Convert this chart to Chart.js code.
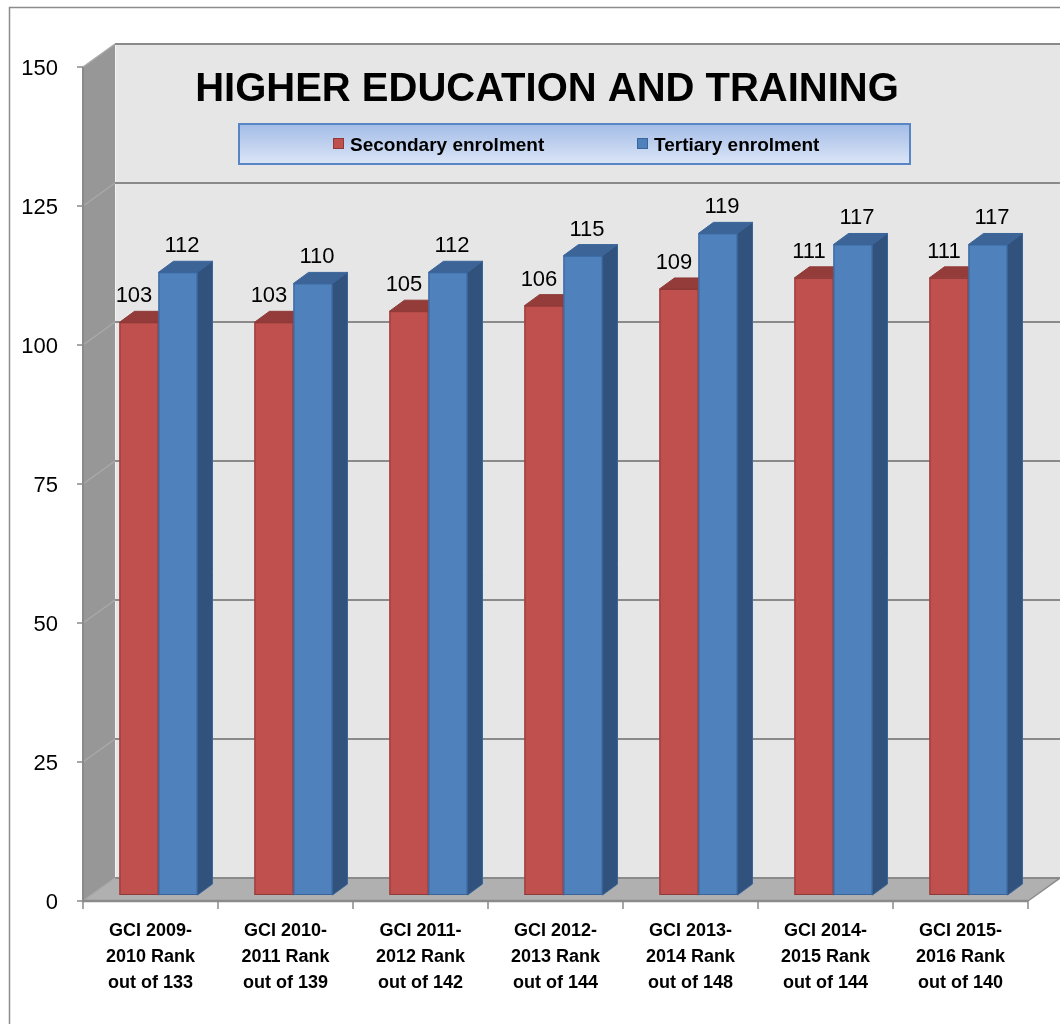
<!DOCTYPE html>
<html><head><meta charset="utf-8">
<script src="https://cdn.jsdelivr.net/npm/chart.js@4.4.0/dist/chart.umd.min.js"></script>
<style>html,body{margin:0;padding:0;background:#fff}canvas{display:block}</style>
</head><body>
<canvas id="c" width="1060" height="1024"></canvas>
<script>
const categories = [
  ["GCI 2009-","2010 Rank","out of 133"],
  ["GCI 2010-","2011 Rank","out of 139"],
  ["GCI 2011-","2012 Rank","out of 142"],
  ["GCI 2012-","2013 Rank","out of 144"],
  ["GCI 2013-","2014 Rank","out of 148"],
  ["GCI 2014-","2015 Rank","out of 144"],
  ["GCI 2015-","2016 Rank","out of 140"]
];
const secondaryEnrolment = [103,103,105,106,109,111,111];
const tertiaryEnrolment  = [112,110,112,115,119,117,117];
const seriesNames = ["Secondary enrolment","Tertiary enrolment"];
const yTickValues = [0,25,50,75,100,125,150];
const chartTitle = "HIGHER EDUCATION AND TRAINING";

const FRONT = {dx:-8, dy:6}, BACK = {dx:24, dy:-17}, DEPTH = {dx:15, dy:-11};
const COLORS = [
  {front:'#c0504d', top:'#943c3a', side:'#7d3230', edge:'#8e3a38'},
  {front:'#4f81bd', top:'#3c6497', side:'#30527c', edge:'#3a659a'}
];
const FONT = '"Liberation Sans", Arial, sans-serif';

function poly(ctx, pts, fill, stroke){
  ctx.beginPath();
  ctx.moveTo(pts[0][0], pts[0][1]);
  for (let i=1;i<pts.length;i++) ctx.lineTo(pts[i][0], pts[i][1]);
  ctx.closePath();
  if (fill){ ctx.fillStyle = fill; ctx.fill(); }
  if (stroke){ ctx.strokeStyle = stroke; ctx.lineWidth = 1; ctx.stroke(); }
}
function line(ctx, x1,y1,x2,y2, color, w){
  ctx.beginPath(); ctx.moveTo(x1,y1); ctx.lineTo(x2,y2);
  ctx.strokeStyle=color; ctx.lineWidth=w; ctx.stroke();
}

const excel3d = {
  id:'excel3d',
  beforeDraw(chart){
    const {ctx, chartArea:a, scales:{x, y}} = chart;
    ctx.save();
    ctx.fillStyle='#fff'; ctx.fillRect(0,0,chart.width,chart.height);
    ctx.beginPath(); ctx.moveTo(9.5, chart.height+5); ctx.lineTo(9.5,7.5); ctx.lineTo(chart.width+5,7.5);
    ctx.strokeStyle='#8c8c8c'; ctx.lineWidth=1.5; ctx.stroke();

    const y0 = y.getPixelForValue(0), yT = y.getPixelForValue(150);
    const fl = a.left+FRONT.dx, fr = a.right+FRONT.dx, bl = a.left+BACK.dx, br = a.right+BACK.dx;
    ctx.fillStyle='#e6e6e6'; ctx.fillRect(bl, yT+BACK.dy, br-bl+40, y0-yT);
    poly(ctx, [[fl,yT+FRONT.dy],[bl,yT+BACK.dy],[bl,y0+BACK.dy],[fl,y0+FRONT.dy]], '#979797');
    poly(ctx, [[fl,y0+FRONT.dy],[bl,y0+BACK.dy],[br,y0+BACK.dy],[fr,y0+FRONT.dy]], '#b0b0b0');
    line(ctx, bl+0.5, yT+BACK.dy, bl+0.5, y0+BACK.dy, '#f4f4f4', 1);
    yTickValues.forEach(v=>{
      const py = y.getPixelForValue(v);
      line(ctx, bl, py+BACK.dy, br+40, py+BACK.dy, '#8a8a8a', 2);
      line(ctx, fl, py+FRONT.dy, bl, py+BACK.dy, '#a9a9a9', 1.5);
      line(ctx, fl-6, py+FRONT.dy, fl, py+FRONT.dy, '#8a8a8a', 1.5);
    });
    line(ctx, fl, yT+FRONT.dy, fl, y0+FRONT.dy+1, '#8a8a8a', 2);
    line(ctx, fl-1, y0+FRONT.dy, fr, y0+FRONT.dy, '#8a8a8a', 2.5);
    line(ctx, fr, y0+FRONT.dy, br, y0+BACK.dy, '#8a8a8a', 1.5);
    const step = a.width / categories.length;
    for (let i=0;i<=categories.length;i++){
      const px = a.left + i*step + FRONT.dx;
      line(ctx, px, y0+FRONT.dy, px, y0+FRONT.dy+8, '#8a8a8a', 1.5);
    }
    ctx.restore();
  },
  beforeDatasetsDraw(chart){
    const ctx = chart.ctx;
    ctx.save();
    ctx.fillStyle='#000'; ctx.font='bold 40px '+FONT; ctx.textAlign='center'; ctx.textBaseline='alphabetic';
    ctx.fillText(chartTitle, 547, 101);
    const lx=239, ly=124, lw=671, lh=40;
    const g = ctx.createLinearGradient(0, ly, 0, ly+lh);
    g.addColorStop(0,'#a3bce7'); g.addColorStop(1,'#dbe5f6');
    ctx.fillStyle=g; ctx.fillRect(lx,ly,lw,lh);
    ctx.strokeStyle='#5886c4'; ctx.lineWidth=2; ctx.strokeRect(lx,ly,lw,lh);
    const items = [{x:333, tx:350}, {x:637, tx:654}];
    ctx.font='bold 19px '+FONT; ctx.textAlign='left'; ctx.textBaseline='alphabetic';
    items.forEach((it,i)=>{
      ctx.fillStyle=COLORS[i].front; ctx.fillRect(it.x, 138, 11, 11);
      ctx.strokeStyle=COLORS[i].edge; ctx.lineWidth=1; ctx.strokeRect(it.x+0.5,138.5,10,10);
      ctx.fillStyle='#000'; ctx.fillText(chart.data.datasets[i].label, it.tx, 151);
    });
    ctx.restore();
  },
  afterDatasetsDraw(chart){
    const ctx = chart.ctx;
    ctx.save();
    const metas = [chart.getDatasetMeta(0), chart.getDatasetMeta(1)];
    for (let i=0;i<categories.length;i++){
      metas.forEach((m,di)=>{
        const el = m.data[i];
        const p = el.getProps(['x','y','base','width'], true);
        const L = p.x-p.width/2, R = p.x+p.width/2, T = p.y, B = p.base;
        const c = COLORS[di];
        ctx.fillStyle=c.front; ctx.fillRect(L,T,R-L,B-T);
        ctx.strokeStyle=c.edge; ctx.lineWidth=1; ctx.strokeRect(L+0.5,T+0.5,R-L-1,B-T-1);
        poly(ctx, [[L,T],[L+DEPTH.dx,T+DEPTH.dy],[R+DEPTH.dx,T+DEPTH.dy],[R,T]], c.top, c.edge);
        poly(ctx, [[R,T],[R+DEPTH.dx,T+DEPTH.dy],[R+DEPTH.dx,B+DEPTH.dy],[R,B]], c.side, c.edge);
      });
    }
    ctx.fillStyle='#000'; ctx.font='22px '+FONT; ctx.textAlign='center'; ctx.textBaseline='alphabetic';
    metas.forEach((m,di)=>{
      m.data.forEach((el,i)=>{
        const p = el.getProps(['x','y'], true);
        const v = chart.data.datasets[di].data[i];
        ctx.fillText(String(v), p.x + (di===0 ? -5 : 4), p.y - 20);
      });
    });
    ctx.restore();
  }
};

new Chart(document.getElementById('c'), {
  type:'bar',
  data:{
    labels: categories,
    datasets:[
      {label: seriesNames[0], data: secondaryEnrolment, backgroundColor: COLORS[0].front, borderWidth:0},
      {label: seriesNames[1], data: tertiaryEnrolment, backgroundColor: COLORS[1].front, borderWidth:0}
    ]
  },
  options:{
    responsive:false, animation:false, devicePixelRatio:1,
    layout:{padding:{top:61, right:24, left:0, bottom:0}},
    datasets:{bar:{categoryPercentage:0.578, barPercentage:1}},
    plugins:{legend:{display:false}, title:{display:false}, tooltip:{enabled:false}},
    scales:{
      x:{
        grid:{display:false, drawTicks:false}, border:{display:false},
        ticks:{color:'#000', font:{family:FONT, size:18, weight:'bold', lineHeight:1.45}, padding:23, labelOffset:-8, maxRotation:0, autoSkip:false},
        afterFit(s){ s.height = 129; }
      },
      y:{
        min:0, max:150,
        grid:{display:false, drawTicks:false}, border:{display:false},
        ticks:{stepSize:25, color:'#000', font:{family:FONT, size:22}, padding:33, labelOffset:8},
        afterFit(s){ s.width = 91; }
      }
    }
  },
  plugins:[excel3d]
});
</script>
</body></html>
